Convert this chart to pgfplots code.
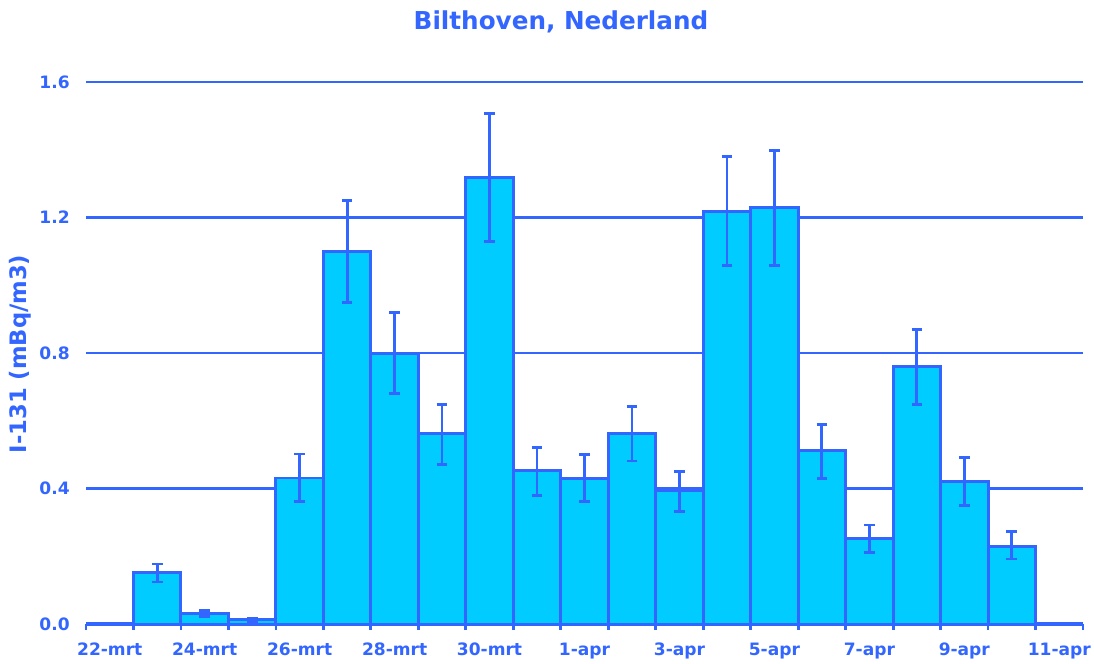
\documentclass[border=0pt]{standalone}
\usepackage{fontspec}
\setmainfont{DejaVu Sans}
\usepackage{pgfplots}
\pgfplotsset{compat=1.18}
\definecolor{mblue}{HTML}{3366FF}
\definecolor{mcyan}{HTML}{00CCFF}
\begin{document}
\begin{tikzpicture}
\useasboundingbox (-64.5pt,-29.25pt) rectangle (756pt,468pt);
\begin{axis}[
  at={(0,0)}, anchor=south west,
  scale only axis, width=747.75pt, height=406.5pt,
  xmin=-0.5, xmax=20.5, ymin=0, ymax=1.6,
  axis x line*=bottom, axis y line*=left,
  x axis line style={-, line width=2.3pt, color=mblue},
  y axis line style={draw=none},
  xtick={0,2,...,20},
  xticklabels={22-mrt,24-mrt,26-mrt,28-mrt,30-mrt,1-apr,3-apr,5-apr,7-apr,9-apr,11-apr},
  minor xtick={-0.5,0.5,...,20.5},
  major tick length=0pt, minor tick length=4.5pt, tick align=outside,
  every tick/.style={mblue, line width=2.1pt},
  ytick={0,0.4,0.8,1.2,1.6},
  ytick style={draw=none},
  ymajorgrids, major grid style={mblue, line width=2.1pt},
  /pgf/number format/.cd, fixed, fixed zerofill, precision=1, assume math mode=true,
  /pgfplots/.cd,
  tick label style={font=\fontsize{12.8}{15}\selectfont\bfseries, text=mblue, inner sep=0pt},
  xticklabel style={anchor=base, yshift=-23.25pt},
  yticklabel style={anchor=east, xshift=-12pt},
]
\addplot[ybar, bar width=1, bar shift=0pt, fill=mcyan, draw=mblue, line width=2.2pt,
  error bars/.cd, y dir=both, y explicit,
  error bar style={line width=2.1pt, mblue},
  error mark options={rotate=90, mark size=4pt, line width=2.1pt, mblue}]
  table[x=x, y=y, y error plus=ep, y error minus=em] {
x y ep em
1 0.151 0.026 0.027
2 0.031 0.008 0.009
3 0.012 0.006 0.006
4 0.431 0.071 0.069
5 1.099 0.150 0.149
6 0.799 0.121 0.119
7 0.561 0.088 0.090
8 1.318 0.190 0.189
9 0.452 0.068 0.072
10 0.430 0.071 0.069
11 0.561 0.080 0.080
12 0.393 0.058 0.062
13 1.219 0.160 0.160
14 1.229 0.169 0.170
15 0.511 0.079 0.081
16 0.253 0.039 0.042
17 0.760 0.110 0.111
18 0.420 0.072 0.070
19 0.230 0.042 0.038
};
\end{axis}
\node[anchor=base, text=mblue, font=\fontsize{18.5}{22}\selectfont\bfseries] at (356.25pt,446pt) {Bilthoven, Nederland};
\node[rotate=90, anchor=base, text=mblue, font=\fontsize{17}{20}\selectfont\bfseries] at (-44.5pt,202.5pt) {I-131 (mBq/m3)};
\end{tikzpicture}
\end{document}
